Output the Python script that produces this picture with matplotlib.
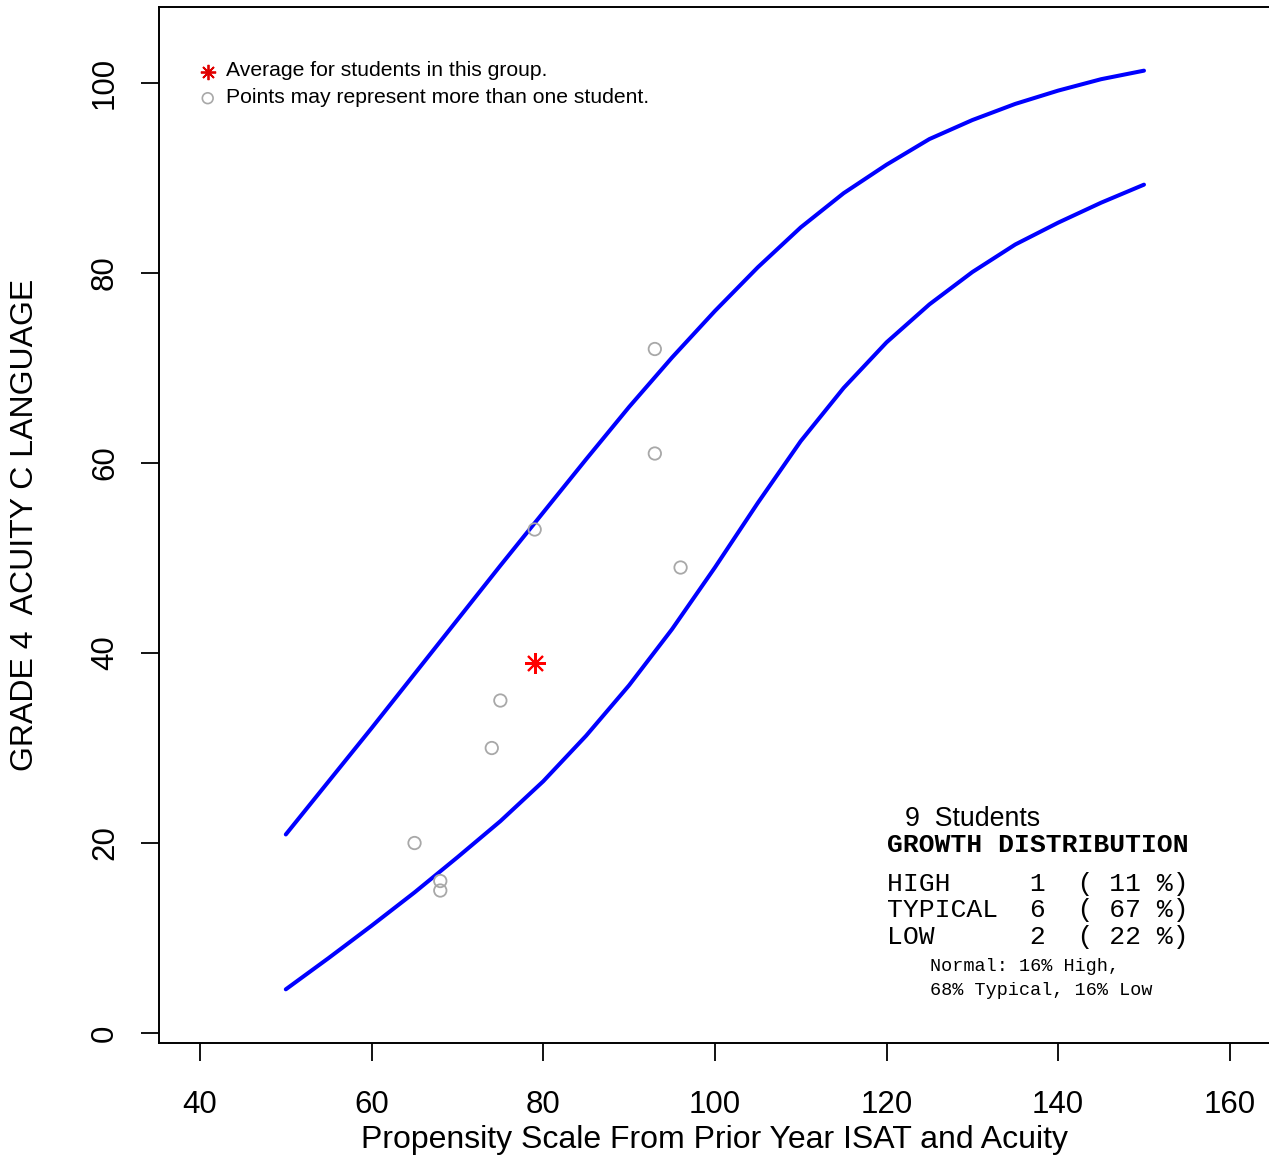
import matplotlib
matplotlib.use("Agg")
import matplotlib.pyplot as plt
import numpy as np

# growth band curves, every 5 points
curve_x = [50, 55, 60, 65, 70, 75, 80, 85, 90, 95, 100, 105, 110, 115, 120,
           125, 130, 135, 140, 145, 150]
upper_y = [20.9, 26.5, 32.1, 37.8, 43.5, 49.2, 54.8, 60.4, 65.9, 71.1, 76.0,
           80.6, 84.8, 88.4, 91.4, 94.1, 96.1, 97.8, 99.2, 100.4, 101.3]
lower_y = [4.6, 7.9, 11.3, 14.8, 18.5, 22.3, 26.5, 31.3, 36.6, 42.5, 49.0,
           55.8, 62.3, 67.9, 72.7, 76.7, 80.1, 83.0, 85.3, 87.4, 89.3]

# students
student_x = [65, 68, 68, 74, 75, 79, 93, 93, 96]
student_y = [20, 16, 15, 30, 35, 53, 72, 61, 49]
avg_x, avg_y = 79, 39

x_ticks = [40, 60, 80, 100, 120, 140, 160]
y_ticks = [0, 20, 40, 60, 80, 100]

dist_labels = ["HIGH", "TYPICAL", "LOW"]
dist_counts = [1, 6, 2]
dist_pcts = [11, 67, 22]

sans = "Liberation Sans"
mono = "Liberation Mono"
plt.rcParams["font.family"] = sans

fig = plt.figure(figsize=(12.69, 11.61), dpi=100)
W, H = 1269, 1161
ax = fig.add_axes([158.8 / W, 1 - 1043 / H, (1271 - 158.8) / W, (1043 - 7) / H])

ax.plot(curve_x, upper_y, color="#0000FF", lw=2.9, solid_capstyle="round", solid_joinstyle="round")
ax.plot(curve_x, lower_y, color="#0000FF", lw=2.9, solid_capstyle="round", solid_joinstyle="round")
ax.scatter(student_x, student_y, s=80, facecolors="none", edgecolors="#A8A8A8", linewidths=1.3, zorder=3)
ax.plot(avg_x, avg_y, marker=(8, 2, 0), color="#FF0000", ms=15, mew=1.5, zorder=4)

ax.set_xlim(35.2, 164.8)
ax.set_ylim(-1.05, 108)
ax.set_xticks(x_ticks)
ax.set_yticks(y_ticks)
ax.set_yticklabels([str(v) for v in y_ticks], rotation=90, va="center")
ax.tick_params(axis="both", length=13, width=1.3, labelsize=22.5, color="black")
ax.tick_params(axis="x", pad=21)
ax.tick_params(axis="y", pad=15)
for s in ax.spines.values():
    s.set_linewidth(1.4)

fig.text(714.5 / W, 1 - 1140 / H, "Propensity Scale From Prior Year ISAT and Acuity",
         ha="center", va="center", fontsize=23)
fig.text(25 / W, 1 - 525 / H, "GRADE 4  ACUITY C LANGUAGE", rotation=90,
         ha="center", va="center", fontsize=23)

# legend
ax.plot(40.9, 101.2, marker=(8, 2, 0), color="#E00000", ms=11, mew=1.3)
ax.scatter([40.9], [98.4], s=60, facecolors="none", edgecolors="#A8A8A8", linewidths=1.2)
ax.text(43.0, 101.3, "Average for students in this group.", fontsize=15.2, va="center")
ax.text(43.0, 98.5, "Points may represent more than one student.", fontsize=15.2, va="center")

# growth distribution box
ax.text(122.1, 22.5, "%d  Students" % len(student_x), fontsize=19.3, va="center")
ax.text(120.0, 19.8, "GROWTH DISTRIBUTION", family=mono, fontweight="bold", fontsize=19, va="center")
for i, (lab, c, p) in enumerate(zip(dist_labels, dist_counts, dist_pcts)):
    row = "%-9s%d  ( %d %%)" % (lab, c, p)
    ax.text(120.0, 15.7 - 2.8 * i, row, family=mono, fontsize=19, va="center")
ax.text(125.05, 6.95, "Normal: 16% High,", family=mono, fontsize=13.3, va="center")
ax.text(125.05, 4.5, "68% Typical, 16% Low", family=mono, fontsize=13.3, va="center")

fig.savefig("out.png", dpi=100)
